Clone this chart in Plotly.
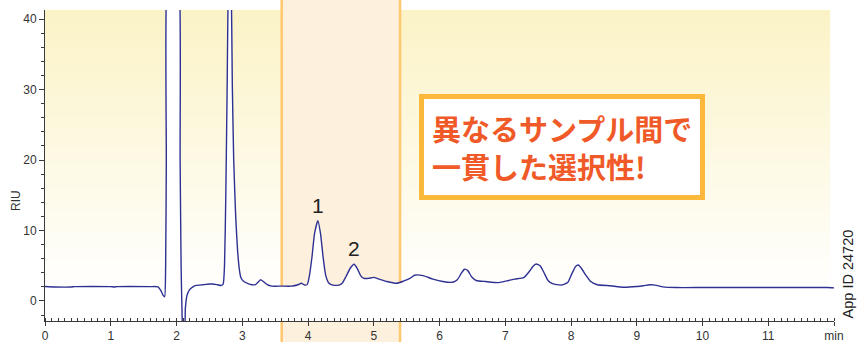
import base64
import struct
import zlib

import plotly.graph_objects as go

# ---------------- data ----------------
RT_MIN = [
    0.00, 0.15, 0.40, 0.45, 1.00, 1.05, 1.10, 1.60, 1.72, 1.76, 1.80, 1.82,
    1.835, 1.845, 1.855, 1.95, 2.04, 2.055, 2.07, 2.085, 2.10, 2.12, 2.135,
    2.16, 2.20, 2.25, 2.30, 2.40, 2.50, 2.55, 2.62, 2.68, 2.71, 2.73, 2.75,
    2.77, 2.79, 2.81, 2.83, 2.85, 2.87, 2.90, 2.93, 2.96, 2.98, 3.02, 3.08,
    3.15, 3.20, 3.25, 3.28, 3.32, 3.38, 3.45, 3.60, 3.75, 3.85, 3.90, 3.95,
    3.99, 4.02, 4.06, 4.10, 4.15, 4.19, 4.23, 4.27, 4.32, 4.38, 4.47, 4.52,
    4.58, 4.64, 4.70, 4.75, 4.80, 4.85, 4.92, 5.00, 5.08, 5.20, 5.35, 5.45,
    5.55, 5.62, 5.75, 5.90, 6.05, 6.20, 6.27, 6.33, 6.38, 6.43, 6.49, 6.56,
    6.70, 6.90, 7.05, 7.15, 7.28, 7.36, 7.42, 7.47, 7.53, 7.59, 7.65, 7.72,
    7.85, 7.95, 8.01, 8.07, 8.11, 8.16, 8.23, 8.30, 8.40, 8.60, 8.80, 9.00,
    9.10, 9.20, 9.28, 9.40, 9.60, 10.00, 10.50, 11.00, 11.50, 11.90, 12.00,
]
SIGNAL_RIU = [
    2.05, 1.98, 1.98, 2.03, 2.03, 1.98, 2.03, 2.03, 2.00, 1.50, 0.75, 0.60,
    5.0, 20.0, 45.0, 48.0, 45.0, 20.0, 5.0, -2.0, -5.0, -5.0, -1.0,
    0.8, 1.6, 2.0, 2.2, 2.3, 2.4, 2.4, 2.3, 2.2, 2.4, 5.0, 15.0,
    30.0, 45.0, 47.0, 45.0, 30.0, 20.0, 12.0, 7.0, 4.2, 3.3, 2.8, 2.5,
    2.3, 2.3, 2.75, 3.0, 2.75, 2.3, 2.1, 2.1, 2.1, 2.3, 2.5, 2.25,
    2.35, 3.5, 6.2, 9.6, 11.4, 9.6, 6.2, 3.6, 2.5, 2.25, 2.25, 2.5,
    3.5, 4.6, 5.2, 4.6, 3.6, 3.2, 3.2, 3.35, 3.1, 2.75, 2.5, 2.8,
    3.2, 3.65, 3.6, 3.1, 2.75, 2.65, 3.0, 3.9, 4.5, 4.3, 3.4, 2.9,
    2.75, 2.6, 2.9, 3.1, 3.3, 4.1, 4.9, 5.25, 5.0, 4.0, 2.9, 2.45,
    2.25, 2.6, 3.8, 4.9, 5.1, 4.6, 3.6, 2.75, 2.3, 2.15, 1.95, 2.05,
    2.15, 2.3, 2.25, 2.0, 1.9, 1.9, 1.9, 1.9, 1.9, 1.9, 1.85,
]

PEAK_LABELS = ["1", "2"]
PEAK_RT = [4.15, 4.70]
PEAK_HEIGHT = [11.4, 5.2]

HIGHLIGHT_RT = [3.6, 5.4]

X_TICKS = list(range(0, 13))
X_TICKTEXT = [str(v) for v in range(0, 12)] + ["min"]
Y_TICKS = [0, 10, 20, 30, 40]
X_RANGE = [0, 12]
Y_RANGE = [-2.85, 41.3]

CALLOUT_TEXT = "異なるサンプル間で<br>一貫した選択性!"
Y_TITLE = "RIU"
APP_ID = "App ID 24720"


# ---------------- background gradient as a tiny PNG ----------------
def gradient_png(top_rgb, rows, fade_rows):
    def chunk(tag, data):
        return (struct.pack(">I", len(data)) + tag + data
                + struct.pack(">I", zlib.crc32(tag + data) & 0xFFFFFFFF))

    raw = b""
    for r in range(rows):
        t = min(r / fade_rows, 1.0)
        c = bytes(int(round(top_rgb[k] + (255 - top_rgb[k]) * t)) for k in range(3))
        raw += b"\x00" + c * 2
    png = (b"\x89PNG\r\n\x1a\n"
           + chunk(b"IHDR", struct.pack(">IIBBBBB", 2, rows, 8, 2, 0, 0, 0))
           + chunk(b"IDAT", zlib.compress(raw))
           + chunk(b"IEND", b""))
    return "data:image/png;base64," + base64.b64encode(png).decode()


BG_URI = gradient_png((251, 243, 198), 311, 285)

AXIS_COLOR = "#3a3a3a"
TRACE_COLOR = "#2E3192"

fig = go.Figure()

# helper baseline at the bottom of the axis so the trace can be filled white
fig.add_trace(go.Scatter(
    x=[X_RANGE[0], X_RANGE[1]], y=[Y_RANGE[0], Y_RANGE[0]],
    mode="lines", line=dict(width=0, color="rgba(0,0,0,0)"),
    hoverinfo="skip", showlegend=False,
))
fig.add_trace(go.Scatter(
    x=RT_MIN, y=SIGNAL_RIU, mode="lines",
    line=dict(color=TRACE_COLOR, width=1.4, shape="spline", smoothing=0.5),
    fill="tonexty", fillcolor="white",
    showlegend=False,
))

fig.add_layout_image(dict(
    source=BG_URI, xref="paper", yref="paper", x=0, y=1,
    sizex=0.995, sizey=1, xanchor="left", yanchor="top",
    sizing="stretch", layer="below",
))

fig.add_shape(
    type="rect", xref="x", yref="paper",
    x0=HIGHLIGHT_RT[0], x1=HIGHLIGHT_RT[1], y0=-0.2, y1=1.2,
    fillcolor="#FDF0DC", line=dict(color="#FFC76E", width=2.5),
    layer="below",
)

for lab, xr, h in zip(PEAK_LABELS, PEAK_RT, PEAK_HEIGHT):
    fig.add_annotation(
        x=xr, y=h, text=lab, showarrow=False, yanchor="bottom",
        yshift=2, font=dict(family="Liberation Sans", size=21, color="#222222"),
    )

fig.add_annotation(
    x=7.86, y=21.9, xref="x", yref="y", text=CALLOUT_TEXT, showarrow=False,
    align="left", bgcolor="white", bordercolor="#FBB83A", borderwidth=5,
    borderpad=8,
    font=dict(family="Noto Sans CJK JP", size=29, color="#F05A28", weight="bold"),
)

fig.add_annotation(
    x=-0.0368, y=0.389, xref="paper", yref="paper", text=Y_TITLE,
    xanchor="center", yanchor="middle",
    showarrow=False, textangle=-90,
    font=dict(family="Liberation Sans", size=12, color="#333333"),
)
fig.add_annotation(
    x=1.0177, y=0.153, xref="paper", yref="paper", text=APP_ID,
    xanchor="center", yanchor="middle",
    showarrow=False, textangle=-90,
    font=dict(family="Liberation Sans", size=14.5, color="#222222"),
)

fig.update_xaxes(
    range=X_RANGE, tickvals=X_TICKS, ticktext=X_TICKTEXT, automargin=False,
    showline=True, linecolor=AXIS_COLOR, linewidth=1,
    ticks="outside", ticklen=4, tickcolor=AXIS_COLOR, tickwidth=1,
    minor=dict(dtick=0.1, ticks="inside", ticklen=3, tickcolor=AXIS_COLOR),
    showgrid=False, zeroline=False,
    tickfont=dict(family="Liberation Sans", size=12, color="#333333"),
)
fig.update_yaxes(
    range=Y_RANGE, tickvals=Y_TICKS, automargin=False,
    showline=True, linecolor=AXIS_COLOR, linewidth=1,
    ticks="outside", ticklen=5, tickcolor=AXIS_COLOR, tickwidth=1,
    minor=dict(dtick=2, ticks="outside", ticklen=3, tickcolor=AXIS_COLOR),
    showgrid=False, zeroline=False,
    tickfont=dict(family="Liberation Sans", size=12, color="#333333"),
)

fig.update_layout(
    width=857, height=342,
    margin=dict(l=45, r=23, t=10, b=21),
    paper_bgcolor="white", plot_bgcolor="white",
    showlegend=False,
)

fig.write_html("out.html")
